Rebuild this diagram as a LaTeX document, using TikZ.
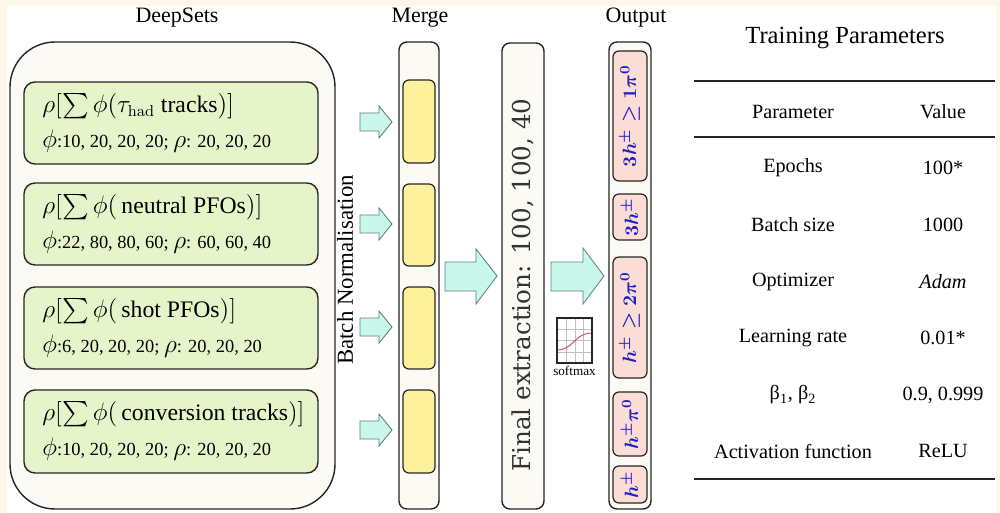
\documentclass[tikz,border=0pt]{standalone}
\usepackage[no-math]{fontspec}
\setmainfont{Liberation Serif}
\newfontfamily\extfont{DejaVu Serif}
\usepackage{xcolor}
\usepackage{amsmath}
\usepackage{tikz}

\definecolor{bgcream}{HTML}{FDF8EA}
\definecolor{colfill}{HTML}{FBFAF4}
\definecolor{setgreen}{HTML}{E6F5C9}
\definecolor{mergeyellow}{HTML}{FDF29B}
\definecolor{outpink}{HTML}{FBDDD6}
\definecolor{arrowcyan}{HTML}{C9F7EC}
\definecolor{arrowline}{HTML}{5E7F7A}
\definecolor{outblue}{HTML}{1F1FC8}
\definecolor{curvered}{HTML}{C06868}

\begin{document}
\begin{tikzpicture}[x=0.02cm,y=-0.02cm,
    outerbox/.style={draw=black!85, fill=colfill, line width=0.8pt, rounded corners=0.9cm},
    setbox/.style={draw=black!85, fill=setgreen, line width=0.8pt, rounded corners=0.22cm},
    colbox/.style={draw=black!85, fill=colfill, line width=0.8pt, rounded corners=0.16cm},
    mergebox/.style={draw=black!85, fill=mergeyellow, line width=0.7pt, rounded corners=0.12cm},
    outbox/.style={draw=black!85, fill=outpink, line width=0.7pt, rounded corners=0.12cm},
    flowarrow/.style={draw=arrowline, fill=arrowcyan, line width=0.5pt},
    heading/.style={font=\fontsize{12.5}{15}\selectfont},
    setline/.style={anchor=west, inner sep=0pt, font=\fontsize{13.5}{16}\selectfont},
    setsize/.style={anchor=west, inner sep=0pt, font=\fontsize{10.5}{13}\selectfont},
    cls/.style={rotate=90, inner sep=0pt, text=outblue, font=\fontsize{11}{13}\selectfont\boldmath},
    tabtext/.style={font=\fontsize{11.5}{13}\selectfont},
    rule/.style={line width=0.9pt, black!85}]

    % frame
    \fill[bgcream] (0,0) rectangle (1000,513);
    \fill[white] (7,6) rectangle (996,513);

    % DeepSets
    \node[heading] (deepsets) at (177,18) {DeepSets};
    \draw[outerbox] (10,42) rectangle (335,509);

    \draw[setbox] (24,82) rectangle (318,164);
    \node[setline] (tracks) at (42,106) {$\rho[\sum\phi(\tau_{\mathrm{had}}$\ tracks$)]$};
    \node[setsize] (tracks-dims) at (42,141) {{\fontsize{13.5}{16}\selectfont$\phi$}:10, 20, 20, 20; {\fontsize{13.5}{16}\selectfont$\rho$}: 20, 20, 20};

    \draw[setbox] (24,183) rectangle (318,265);
    \node[setline] (neutral) at (42,207) {$\rho[\sum\phi(\,$neutral PFOs$)]$};
    \node[setsize] (neutral-dims) at (42,242) {{\fontsize{13.5}{16}\selectfont$\phi$}:22, 80, 80, 60; {\fontsize{13.5}{16}\selectfont$\rho$}: 60, 60, 40};

    \draw[setbox] (24,287) rectangle (318,369);
    \node[setline] (shot) at (42,311) {$\rho[\sum\phi(\,$shot PFOs$)]$};
    \node[setsize] (shot-dims) at (42,346) {{\fontsize{13.5}{16}\selectfont$\phi$}:6, 20, 20, 20; {\fontsize{13.5}{16}\selectfont$\rho$}: 20, 20, 20};

    \draw[setbox] (24,390) rectangle (318,473);
    \node[setline] (conversion) at (42,414) {$\rho[\sum\phi(\,$conversion tracks$)]$};
    \node[setsize] (conversion-dims) at (42,449) {{\fontsize{13.5}{16}\selectfont$\phi$}:10, 20, 20, 20; {\fontsize{13.5}{16}\selectfont$\rho$}: 20, 20, 20};

    % batch normalisation
    \node[rotate=90, font=\fontsize{13}{15}\selectfont] (batchnorm) at (345,270) {Batch Normalisation};
    \draw[flowarrow] (360,113) -- (379,113) -- (379,106) -- (392,122) -- (379,138) -- (379,131) -- (360,131) -- cycle;
    \draw[flowarrow] (360,215) -- (379,215) -- (379,208) -- (392,224) -- (379,240) -- (379,233) -- (360,233) -- cycle;
    \draw[flowarrow] (360,318) -- (379,318) -- (379,311) -- (392,327) -- (379,343) -- (379,336) -- (360,336) -- cycle;
    \draw[flowarrow] (360,421) -- (379,421) -- (379,414) -- (392,430) -- (379,446) -- (379,439) -- (360,439) -- cycle;

    % merge
    \node[heading] (merge) at (420,18) {Merge};
    \draw[colbox] (399,42) rectangle (439,509);
    \draw[mergebox] (403,80) rectangle (435,163);
    \draw[mergebox] (403,184) rectangle (435,266);
    \draw[mergebox] (403,287) rectangle (435,369);
    \draw[mergebox] (403,390) rectangle (435,473);

    \draw[flowarrow] (445,262) -- (476,262) -- (476,249) -- (497,276) -- (476,304) -- (476,291) -- (445,291) -- cycle;

    % final extraction
    \draw[colbox] (502,43) rectangle (544,509);
    \node[rotate=90, text=black!80, font=\extfont\fontsize{14}{16}\selectfont] (extraction) at (523,285) {Final extraction: 100, 100, 40};

    \draw[flowarrow] (551,262) -- (583,262) -- (583,248) -- (604,276) -- (583,304) -- (583,291) -- (551,291) -- cycle;

    % softmax
    \draw[black!25, line width=0.3pt] (566,318) -- (566,363) (575,318) -- (575,363) (583,318) -- (583,363)
        (557,329) -- (592,329) (557,340) -- (592,340) (557,352) -- (592,352);
    \draw[curvered, line width=0.6pt] (557,350) .. controls (574,350) and (574,333) .. (592,333);
    \draw[black!85, line width=0.7pt] (557,318) rectangle (592,363);
    \node[anchor=north, inner sep=1pt, font=\fontsize{7.5}{9}\selectfont] (softmax) at (574.5,364) {softmax};

    % output
    \node[heading] (output) at (636,18) {Output};
    \draw[colbox] (609,42) rectangle (651,509);
    \draw[outbox] (613,51) rectangle (647,181) node[pos=.5, cls] (cls5) {$3h^{\pm}\geq 1\pi^{0}$};
    \draw[outbox] (613,194) rectangle (647,240) node[pos=.5, cls] (cls4) {$3h^{\pm}$};
    \draw[outbox] (613,257) rectangle (647,378) node[pos=.5, cls] (cls3) {$h^{\pm}\geq 2\pi^{0}$};
    \draw[outbox] (613,392) rectangle (647,456) node[pos=.5, cls] (cls2) {$h^{\pm}\pi^{0}$};
    \draw[outbox] (613,466) rectangle (647,503) node[pos=.5, cls] (cls1) {$h^{\pm}$};

    % training parameters
    \node[font=\fontsize{14}{16}\selectfont] (train) at (845,38) {Training Parameters};
    \draw[rule] (694,81) -- (995,81);
    \node[tabtext] (param-head) at (793,112) {Parameter};
    \node[tabtext] (value-head) at (943,112) {Value};
    \draw[rule] (694,137) -- (995,137);
    \node[tabtext] (param-epochs) at (793,168) {Epochs};
    \node[tabtext] (value-epochs) at (943,168) {100*};
    \node[tabtext] (param-batch) at (793,225) {Batch size};
    \node[tabtext] (value-batch) at (943,225) {1000};
    \node[tabtext] (param-opt) at (793,282) {Optimizer};
    \node[tabtext] (value-opt) at (943,282) {\textit{Adam}};
    \node[tabtext] (param-lr) at (793,338) {Learning rate};
    \node[tabtext] (value-lr) at (943,338) {0.01*};
    \node[tabtext] (param-beta) at (793,395) {β\textsubscript{1}, β\textsubscript{2}};
    \node[tabtext] (value-beta) at (943,395) {0.9, 0.999};
    \node[tabtext] (param-act) at (793,451) {Activation function};
    \node[tabtext] (value-act) at (943,451) {ReLU};
    \draw[rule] (694,479) -- (995,479);
\end{tikzpicture}
\end{document}
